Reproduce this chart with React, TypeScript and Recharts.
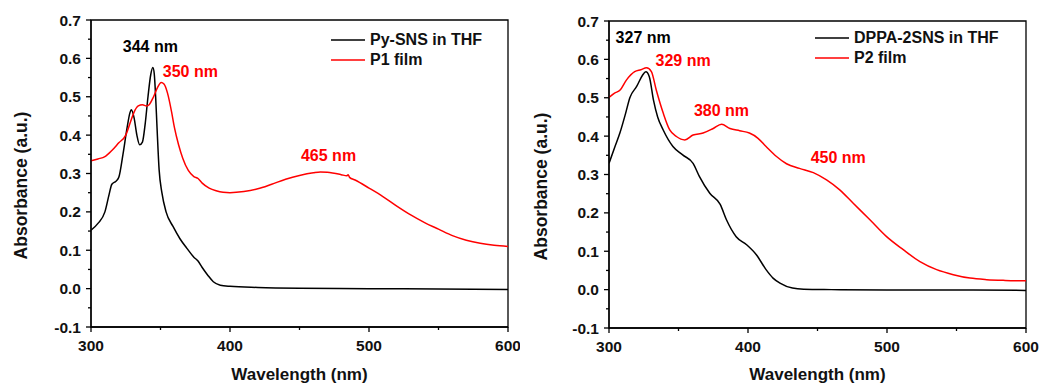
import React from 'react';
import { LineChart, Line, XAxis, YAxis, ReferenceArea, ReferenceDot } from 'recharts';

// Left panel: Py-SNS solution vs P1 film
const pySnsTHF = [
  [300, 0.152], [305, 0.17], [310, 0.2], [313, 0.245], [315, 0.272], [318, 0.28], [320, 0.29],
  [323, 0.35], [326, 0.42], [328, 0.458], [329, 0.466], [331, 0.445], [333, 0.4], [335, 0.375],
  [337, 0.382], [339, 0.43], [341, 0.5], [343, 0.558], [344.5, 0.576], [345.5, 0.56], [346.5, 0.5],
  [347.5, 0.42], [349, 0.31], [351, 0.25], [354, 0.2], [359, 0.162], [364, 0.13], [369, 0.105],
  [374, 0.082], [377, 0.072], [380, 0.055], [384, 0.035], [388, 0.018], [393, 0.009], [400, 0.006],
  [420, 0.003], [450, 0.001], [500, 0], [550, -0.001], [600, -0.002],
];
const p1Film = [
  [300, 0.333], [305, 0.338], [310, 0.344], [315, 0.36], [320, 0.38], [325, 0.4], [328, 0.43],
  [331, 0.46], [334, 0.476], [337, 0.479], [340, 0.476], [342, 0.48], [345, 0.5], [348, 0.525],
  [350.5, 0.537], [352.5, 0.533], [355, 0.51], [358, 0.46], [360, 0.42], [363, 0.375], [366, 0.34],
  [370, 0.308], [374, 0.292], [377, 0.287], [380, 0.275], [385, 0.262], [390, 0.255], [395, 0.251],
  [400, 0.25], [410, 0.253], [420, 0.26], [430, 0.272], [440, 0.285], [450, 0.295], [460, 0.302],
  [465, 0.304], [470, 0.303], [480, 0.297], [484, 0.294], [485, 0.297], [486, 0.29], [490, 0.283],
  [500, 0.262], [510, 0.24], [520, 0.215], [530, 0.192], [540, 0.172], [550, 0.155], [560, 0.138],
  [570, 0.126], [580, 0.118], [590, 0.113], [600, 0.11],
];

// Right panel: DPPA-2SNS solution vs P2 film
const dppaTHF = [
  [300, 0.329], [304, 0.37], [308, 0.41], [312, 0.46], [315, 0.5], [320, 0.53], [324, 0.558],
  [326.5, 0.568], [329, 0.555], [332, 0.494], [335, 0.45], [339, 0.416], [346, 0.373], [353, 0.351],
  [360.5, 0.329], [365, 0.295], [372.5, 0.251], [380, 0.222], [384.5, 0.182], [391.5, 0.138],
  [399, 0.117], [406, 0.091], [413, 0.052], [418, 0.03], [423, 0.017], [432, 0.004], [440, 0.001],
  [460, 0], [500, -0.001], [550, -0.001], [600, -0.002],
];
const p2Film = [
  [300, 0.501], [304, 0.512], [308, 0.52], [312.5, 0.546], [318.5, 0.568], [323, 0.573],
  [327, 0.578], [330.5, 0.568], [334, 0.52], [339, 0.46], [343.7, 0.416], [348.5, 0.399],
  [354.5, 0.39], [360.5, 0.403], [367.7, 0.408], [375, 0.42], [381, 0.431], [387, 0.42],
  [394, 0.414], [401, 0.408], [407, 0.395], [413, 0.373], [420.5, 0.347], [427.7, 0.328],
  [437, 0.316], [447, 0.305], [456.5, 0.286], [466, 0.26], [475.7, 0.225], [487.7, 0.182],
  [499.7, 0.138], [511.7, 0.104], [523.7, 0.073], [535.7, 0.052], [547.7, 0.039], [559.7, 0.03],
  [571.7, 0.026], [585, 0.024], [600, 0.023],
];

const xTicks = [300, 350, 400, 450, 500, 550, 600];
const yTicks = [-0.1, -0.05, 0, 0.05, 0.1, 0.15, 0.2, 0.25, 0.3, 0.35, 0.4, 0.45, 0.5, 0.55, 0.6, 0.65, 0.7];

const leftSeries = [
  { name: 'Py-SNS in THF', color: '#000000', data: pySnsTHF },
  { name: 'P1 film', color: '#ff0000', data: p1Film },
];
const rightSeries = [
  { name: 'DPPA-2SNS in THF', color: '#000000', data: dppaTHF },
  { name: 'P2 film', color: '#ff0000', data: p2Film },
];

const leftNotes = [
  { text: '344 nm', nm: 342.7, value: 0.63, color: '#000000' },
  { text: '350 nm', nm: 371.5, value: 0.567, color: '#ff0000' },
  { text: '465 nm', nm: 470.9, value: 0.346, color: '#ff0000' },
];
const rightNotes = [
  { text: '327 nm', nm: 324.6, value: 0.657, color: '#000000' },
  { text: '329 nm', nm: 353.3, value: 0.598, color: '#ff0000' },
  { text: '380 nm', nm: 380.9, value: 0.468, color: '#ff0000' },
  { text: '450 nm', nm: 464.9, value: 0.344, color: '#ff0000' },
];

const FONT = '"Liberation Sans", Arial, sans-serif';

const toRows = (pts: number[][]) => pts.map(([nm, a]) => ({ nm, a }));

const XTick = ({ x, y, payload }: any) => {
  const major = payload.value % 100 === 0;
  return (
    <g>
      <line x1={x} x2={x} y1={y} y2={y + (major ? 5 : 3)} stroke="#000" strokeWidth={1.3} />
      {major && (
        <text x={x} y={y + 18} textAnchor="middle" dominantBaseline="central"
          fontFamily={FONT} fontWeight="bold" fontSize={15.5} fill="#111">
          {payload.value}
        </text>
      )}
    </g>
  );
};

const YTick = ({ x, y, payload }: any) => {
  const major = Math.round(payload.value * 100) % 10 === 0;
  return (
    <g>
      <line x1={x} x2={x - (major ? 5 : 3)} y1={y} y2={y} stroke="#000" strokeWidth={1.3} />
      {major && (
        <text x={x - 10} y={y} textAnchor="end" dominantBaseline="central"
          fontFamily={FONT} fontWeight="bold" fontSize={15.5} fill="#111">
          {payload.value.toFixed(1)}
        </text>
      )}
    </g>
  );
};

interface PanelProps {
  series: typeof leftSeries;
  notes: typeof leftNotes;
  yAxisWidth: number;
  top: number;
  right: number;
  xAxisHeight: number;
  legendLeft: number;
  legendTop: number;
}

function Panel({ series, notes, yAxisWidth, top, right, xAxisHeight, legendLeft, legendTop }: PanelProps) {
  return (
    <div style={{ position: 'relative', width: 520, height: 385 }}>
      <LineChart width={520} height={385} margin={{ top, right, bottom: 0, left: 0 }}>
        <XAxis
          type="number" dataKey="nm" domain={[300, 600]} ticks={xTicks} interval={0}
          allowDataOverflow height={xAxisHeight} tickSize={0} tickMargin={0}
          stroke="#000" strokeWidth={1.3} tick={<XTick />}
          label={{
            value: 'Wavelength (nm)', position: 'insideBottom', offset: 5,
            style: { fontFamily: FONT, fontWeight: 'bold', fontSize: 17, fill: '#111' },
          }}
        />
        <YAxis
          type="number" dataKey="a" domain={[-0.1, 0.7]} ticks={yTicks} interval={0}
          allowDataOverflow width={yAxisWidth} tickSize={0} tickMargin={0}
          stroke="#000" strokeWidth={1.3} tick={<YTick />}
          label={{
            value: 'Absorbance (a.u.)', angle: -90, position: 'insideLeft', offset: 21,
            dy: 12,
            style: { fontFamily: FONT, fontWeight: 'bold', fontSize: 17.5, fill: '#111', textAnchor: 'middle' },
          }}
        />
        <ReferenceArea x1={300} x2={600} y1={-0.1} y2={0.7} fill="none" stroke="#000" strokeWidth={1.3} />
        {series.map((s) => (
          <Line
            key={s.name} data={toRows(s.data)} dataKey="a" type="monotone"
            stroke={s.color} strokeWidth={1.5} dot={false} isAnimationActive={false}
          />
        ))}
        {notes.map((n) => (
          <ReferenceDot
            key={n.text} x={n.nm} y={n.value} r={0}
            shape={(p: any) => (
              <text x={p.cx} y={p.cy} textAnchor="middle" dominantBaseline="central"
                fontFamily={FONT} fontWeight="bold" fontSize={16} fill={n.color}>
                {n.text}
              </text>
            )}
          />
        ))}
      </LineChart>
      <div style={{ position: 'absolute', left: legendLeft, top: legendTop, fontFamily: FONT, fontWeight: 'bold', fontSize: 16, color: '#111' }}>
        {series.map((s) => (
          <div key={s.name} style={{ display: 'flex', alignItems: 'center', height: 20, whiteSpace: 'nowrap' }}>
            <svg width={39} height={20}>
              <line x1={0} x2={34} y1={10} y2={10} stroke={s.color} strokeWidth={1.5} />
            </svg>
            <span>{s.name}</span>
          </div>
        ))}
      </div>
    </div>
  );
}

export default function App() {
  return (
    <div style={{ position: 'absolute', left: 0, top: 0, width: 1040, height: 385, background: '#fff', display: 'flex' }}>
      <Panel series={leftSeries} notes={leftNotes} yAxisWidth={91} top={20} right={12}
        xAxisHeight={58} legendLeft={331} legendTop={30} />
      <Panel series={rightSeries} notes={rightNotes} yAxisWidth={89} top={21} right={14}
        xAxisHeight={57} legendLeft={295} legendTop={28} />
    </div>
  );
}
